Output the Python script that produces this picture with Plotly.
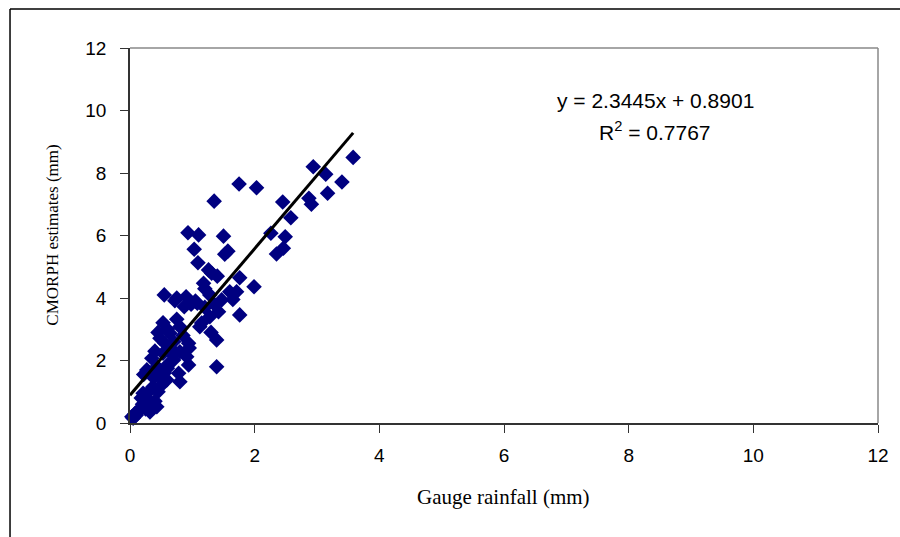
import plotly.graph_objects as go

gauge = [3.58, 2.94, 3.14, 3.40, 3.17, 2.87, 2.91, 2.45, 2.58, 2.03, 1.75, 1.35, 2.26, 2.49, 2.46, 2.35,
         0.93, 1.10, 1.50, 1.03, 1.52, 1.57, 1.09, 1.26, 1.31, 1.18, 1.76, 1.99, 1.71, 0.55, 0.72, 0.90,
         0.87, 1.08, 1.28, 1.47, 1.42, 1.28, 1.76, 0.75, 0.53, 0.80, 1.12, 0.48, 0.64, 0.56, 0.94, 1.39,
         0.80, 0.70, 0.91, 0.94, 0.53, 0.35, 1.39, 0.78, 0.80, 0.27, 0.43, 0.48, 0.59, 0.37, 0.21, 0.29,
         0.43, 0.16, 0.03, 0.08, 0.12, 0.25, 0.35, 0.40, 0.45, 0.30, 0.50, 0.55, 0.60, 0.65, 0.70, 0.45,
         0.60, 0.85, 0.98, 1.20, 1.05, 1.35, 1.40, 1.60, 1.65, 0.05, 0.10, 0.20, 0.32, 0.18, 0.38, 0.22,
         0.68, 0.95, 1.30, 0.75, 1.20, 1.15, 0.40, 0.62]
cmorph = [8.50, 8.20, 7.96, 7.71, 7.35, 7.19, 7.00, 7.07, 6.57, 7.53, 7.65, 7.10, 6.07, 5.96, 5.59, 5.41,
          6.09, 6.02, 5.98, 5.56, 5.40, 5.50, 5.13, 4.90, 4.79, 4.47, 4.65, 4.36, 4.20, 4.10, 3.91, 4.04,
          3.72, 3.83, 4.10, 3.94, 3.56, 3.40, 3.46, 3.32, 3.21, 3.08, 3.08, 2.71, 2.87, 2.55, 2.55, 2.66,
          2.28, 2.02, 2.12, 1.86, 2.23, 2.07, 1.80, 1.59, 1.32, 1.70, 1.80, 1.48, 1.38, 1.16, 0.95, 0.74,
          0.52, 0.42, 0.20, 0.30, 0.38, 0.45, 0.60, 0.70, 1.00, 1.00, 1.20, 1.60, 1.75, 2.40, 2.60, 2.90,
          3.00, 2.80, 3.80, 3.70, 3.90, 3.80, 4.70, 4.20, 3.95, 0.15, 0.25, 0.60, 0.35, 0.80, 1.45, 1.55,
          2.20, 2.40, 2.90, 4.00, 4.30, 3.20, 2.30, 1.90]

slope = 2.3445
intercept = 0.8901
r2 = 0.7767
fit_x = [0, max(gauge)]
fit_y = [slope * v + intercept for v in fit_x]

ticks = [0, 2, 4, 6, 8, 10, 12]

fig = go.Figure()
fig.add_trace(go.Scatter(x=gauge, y=cmorph, mode="markers",
                         marker=dict(symbol="diamond", size=12, color="#000080"),
                         showlegend=False, cliponaxis=False))
fig.add_trace(go.Scatter(x=fit_x, y=fit_y, mode="lines",
                         line=dict(color="black", width=3), showlegend=False))

axis_common = dict(range=[0, 12], tickvals=ticks, showgrid=False, zeroline=False,
                   showline=True, linecolor="#333333", linewidth=1.5,
                   ticks="outside", ticklen=8, tickcolor="#333333",
                   tickfont=dict(family="Liberation Sans, Arial", size=19, color="black"))
fig.update_xaxes(**axis_common, ticklabelstandoff=6)
fig.update_yaxes(**axis_common, ticklabelstandoff=10)

fig.update_layout(
    width=900, height=537,
    margin=dict(l=130, r=22, t=48, b=114),
    plot_bgcolor="white", paper_bgcolor="white",
    shapes=[
        dict(type="line", xref="paper", yref="paper", x0=0, x1=1, y0=1, y1=1,
             line=dict(color="#888888", width=1.5)),
        dict(type="line", xref="paper", yref="paper", x0=1, x1=1, y0=0, y1=1,
             line=dict(color="#888888", width=1.5)),
        dict(type="line", xref="paper", yref="paper", x0=-0.1604, x1=1.03, y0=1.104, y1=1.104,
             line=dict(color="black", width=1.5)),
        dict(type="line", xref="paper", yref="paper", x0=-0.1604, x1=-0.1604, y0=1.104, y1=-0.31,
             line=dict(color="black", width=1.5)),
    ],
    annotations=[
        dict(text="y = %.4fx + %.4f" % (slope, intercept), xref="paper", yref="paper",
             x=0.702, y=0.861, showarrow=False, xanchor="center", yanchor="middle",
             font=dict(family="Liberation Sans, Arial", size=21, color="black")),
        dict(text="R<sup>2</sup> = %.4f" % r2, xref="paper", yref="paper",
             x=0.702, y=0.779, showarrow=False, xanchor="center", yanchor="middle",
             font=dict(family="Liberation Sans, Arial", size=21, color="black")),
        dict(text="Gauge rainfall (mm)", xref="paper", yref="paper",
             x=0.4987, y=-0.197, showarrow=False, xanchor="center", yanchor="middle",
             font=dict(family="Liberation Serif, Times New Roman", size=21, color="black")),
        dict(text="CMORPH estimates (mm)", xref="paper", yref="paper", textangle=-90,
             x=-0.1036, y=0.501, showarrow=False, xanchor="center", yanchor="middle",
             font=dict(family="Liberation Serif, Times New Roman", size=17, color="black")),
    ],
)

fig.write_html("out.html", config={"displayModeBar": False},
               post_script="document.body.style.margin='0';document.body.style.padding='0';")
